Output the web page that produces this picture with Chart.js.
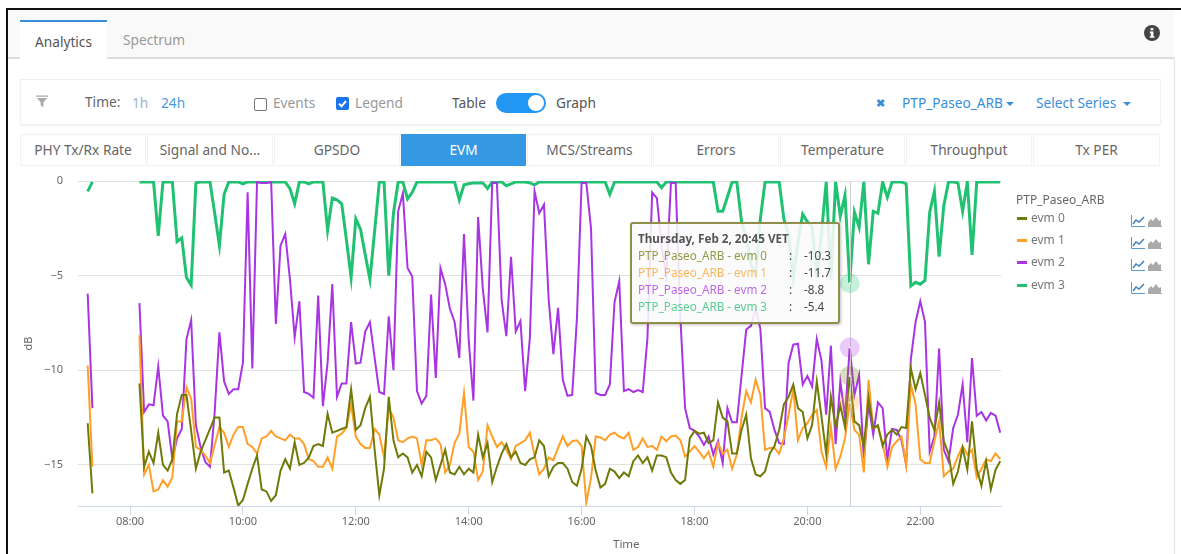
<!DOCTYPE html>
<html>
<head>
<meta charset="utf-8">
<title>EVM</title>
<script src="https://cdn.jsdelivr.net/npm/chart.js@4/dist/chart.umd.min.js"></script>
<style>
html, body { margin: 0; padding: 0; background: #fff; overflow: hidden; }
body { width: 1181px; height: 554px; position: relative; font-family: "Noto Sans", sans-serif; font-size: 13.7px; color: #666; }
.abs { position: absolute; white-space: nowrap; }
.txt { position: absolute; white-space: nowrap; line-height: 20px; }
.caret { display: inline-block; border-left: 4px solid transparent; border-right: 4px solid transparent; border-top: 4px solid #3a8fd8; vertical-align: middle; margin-left: 3px; }
.tab { position: absolute; top: 134px; height: 32px; line-height: 32px; text-align: center; background: #fff; box-shadow: inset 0 0 0 1px #f1f1f1; color: #666; }
.tab.on { background: #3598e2; color: #fff; box-shadow: none; }
#chartBox { position: absolute; left: 8px; top: 170px; width: 1010px; height: 384px; }
#tip { position: absolute; left: 630px; top: 222px; width: 206px; height: 98px; background: rgba(250,250,250,.88); border: 2px solid #8f8f4a; border-radius: 3px; box-shadow: 1px 1px 3px rgba(0,0,0,.25); font-size: 11.7px; line-height: 17px; }
#tip div { position: absolute; white-space: nowrap; }
.lg { position: absolute; left: 1031px; font-size: 12px; line-height: 16px; color: #777; }
.sw { position: absolute; left: 1017px; width: 10px; height: 3px; }
</style>
</head>
<body>
<div class="abs" style="left:6px;top:8px;width:1175px;height:2px;background:#111"></div>
<div class="abs" style="left:6px;top:8px;width:2px;height:546px;background:#111"></div>
<div class="abs" style="left:1174px;top:58px;width:1px;height:496px;background:#e4e4e4"></div>
<div class="abs" style="left:8px;top:10px;width:1166px;height:47px;background:#f9f9f9"></div>
<div class="abs" style="left:8px;top:57px;width:1166px;height:2px;background:#ddd"></div>
<div class="abs" style="left:20px;top:20px;width:87px;height:38px;background:#fff;border-top:2px solid #3a8fd8"></div>
<div class="txt" style="left:35px;top:32px;color:#555">Analytics</div>
<div class="txt" style="left:123px;top:30px;color:#999">Spectrum</div>
<svg class="abs" style="left:1144px;top:25px" width="16" height="16" viewBox="0 0 16 16"><circle cx="8" cy="8" r="8" fill="#444"/><rect x="6.6" y="3" width="2.8" height="2.4" fill="#fff"/><path d="M5.8 6.6h3.6v4.6h1v1.6H5.8v-1.6h1v-3H5.8z" fill="#fff"/></svg>

<div class="abs" style="left:20px;top:79px;width:1139px;height:44px;border:1px solid #f1f1f1;box-shadow:0 1px 1px #f4f4f4"></div>
<svg class="abs" style="left:36px;top:95px" width="12" height="13" viewBox="0 0 14 14"><path d="M0 0h14v1.5H0zM1 3h12L8.6 8V14L5.4 11.5V8z" fill="#aaa"/></svg>
<div class="txt" style="left:85px;top:92px;color:#666">Time:</div>
<div class="txt" style="left:132px;top:93px;color:#9db6c8">1h</div>
<div class="txt" style="left:161px;top:93px;color:#4a9ae0">24h</div>
<div class="abs" style="left:254px;top:98px;width:11px;height:11px;border:1px solid #777;border-radius:2px"></div>
<div class="txt" style="left:273px;top:93px;color:#999">Events</div>
<svg class="abs" style="left:336px;top:97px" width="13" height="13" viewBox="0 0 13 13"><rect width="13" height="13" rx="2" fill="#1a73e8"/><path d="M3 6.8l2.5 2.5L10 4" fill="none" stroke="#fff" stroke-width="2"/></svg>
<div class="txt" style="left:355px;top:93px;color:#999">Legend</div>
<div class="txt" style="left:452px;top:93px;color:#555">Table</div>
<div class="abs" style="left:496px;top:93px;width:50px;height:20px;border-radius:10px;background:#2196f3"></div>
<div class="abs" style="left:528px;top:95px;width:16px;height:16px;border-radius:8px;background:#fff"></div>
<div class="txt" style="left:556px;top:93px;color:#555">Graph</div>
<div class="txt" style="left:876px;top:93px;color:#3a8fd8;font-weight:700;font-size:11px">✖</div>
<div class="txt" style="left:902px;top:93px;color:#3a8fd8">PTP_Paseo_ARB<span class="caret"></span></div>
<div class="txt" style="left:1036px;top:93px;color:#3a8fd8">Select Series <span class="caret"></span></div>

<div class="tab" style="left:20px;width:126px">PHY Tx/Rx Rate</div>
<div class="tab" style="left:147px;width:126px">Signal and No...</div>
<div class="tab" style="left:274px;width:126px">GPSDO</div>
<div class="tab on" style="left:401px;width:125px">EVM</div>
<div class="tab" style="left:527px;width:125px">MCS/Streams</div>
<div class="tab" style="left:653px;width:126px">Errors</div>
<div class="tab" style="left:780px;width:125px">Temperature</div>
<div class="tab" style="left:906px;width:126px">Throughput</div>
<div class="tab" style="left:1033px;width:127px">Tx PER</div>

<div id="chartBox"><canvas id="evmCanvas"></canvas></div>
<div class="txt" style="left:613px;top:534px;font-size:11.5px;color:#666">Time</div>
<div id="tip"></div>

<div class="lg" style="left:1016px;top:192px;color:#666">PTP_Paseo_ARB</div>
<div id="legendRows"></div>

<script>
// 5 minute samples, first sample at 07:15
const startMinute = 435;
const stepMinute = 5;
const seriesNames = ["evm 0", "evm 1", "evm 2", "evm 3"];
const seriesColors = ["#6f7a08", "#ff9f26", "#a935e2", "#20c272"];
const seriesWidths = [2, 2, 2, 3];
const hoverSample = 2 + 9 + 151;
const hoverTitle = "Thursday, Feb 2, 20:45 VET";
const deviceName = "PTP_Paseo_ARB";
const yTicks = [0, -5, -10, -15];

const evm0 = [
    -12.8, -16.5, null, null, null, null, null, null, null, null, null,
    -10.7,-15.1,-14.3,-14.9,-13.3,-15,-15.3,-14.7,-12.3,-11.3,
    -11.3,-13.2,-15.2,-14.3,-13.7,-13.1,-12.5,-12.5,-15.4,-15.3,
    -16.2,-17.15,-16.85,-16,-15.2,-14.5,-16.3,-16.4,-16.9,-16.6,
    -15.3,-14.7,-15.2,-13.8,-15,-14.9,-14.6,-14,-13.9,-14,
    -12.3,-13.3,-13.2,-13.1,-13,-11,-13.15,-12.9,-12,-11.4,
    -14.2,-16.6,-15.2,-11.4,-13.7,-14.6,-14.4,-14.6,-15.4,-15,
    -15.6,-14.3,-14.6,-15.8,-15,-14.2,-15.4,-15.5,-15.1,-15.5,
    -15.2,-15.4,-13.4,-14.6,-13.85,-15.9,-15.1,-14.4,-13.9,-14.6,
    -14.3,-14.9,-15,-14.7,-14.6,-13.7,-14,-15.6,-15.1,-14.9,
    -14.9,-15.2,-15.9,-16.1,-15.2,-13.5,-14,-15.3,-16.2,-16,
    -15.2,-15.35,-15.7,-15.4,-15.6,-14.8,-14.5,-14.9,-14.6,-15.3,
    -14.5,-14.5,-14.6,-15.4,-15.8,-16,-15.8,-13.6,-13.2,-13.35,
    -13.3,-13.85,-13.7,-11.7,-12.5,-12.7,-14.4,-14.4,-13.15,-12.35,
    -14.65,-15.5,-15.6,-15.35,-14.4,-14,-13.15,-11.8,-11.4,-10.75,
    -12,-12.2,-13.6,-12.9,-10.6,-12.45,-14.4,-11.4,-13,-11.85,
    -13,-10.3,-12.7,-12.9,-14,-11.45,-13.05,-12.9,-14,-13.4,
    -13.15,-13.4,-13,-13.05,-9.9,-11,-10.15,-11.3,-12.5,-13.15,
    -11.7,-13.75,-14.4,-16,-15.35,-14.1,-15.25,-12.7,-15.2,-16.1,
    -14.8,-16.3,-15.25,-14.8
];
const evm1 = [
    -9.75, -15.1, null, null, null, null, null, null, null, null, null,
    -8.15,-15.5,-15,-16.4,-16.3,-15.8,-16.15,-15.65,-12.7,-12.7,
    -10.9,-11.5,-14.05,-14.2,-14.5,-14.9,-13.95,-13,-13.3,-14.05,
    -13.4,-13,-13,-13.9,-14.05,-14.4,-13.6,-13.5,-13.2,-13.5,
    -13.6,-13.7,-13.4,-13.6,-13.6,-13.9,-14.7,-14.8,-15.1,-15.1,
    -14.6,-15.2,-13.5,-13.35,-13.05,-11.8,-13.5,-13.9,-14.1,-14.1,
    -13.1,-13.4,-14.6,-12,-12.5,-13.7,-13.8,-13.6,-13.5,-13.6,
    -15,-13.7,-13.7,-13.6,-13.9,-15.4,-15,-13.85,-13.35,-11.2,
    -14.05,-14.3,-15.8,-15.35,-12.9,-13.5,-14.05,-13.8,-14.2,-14.7,
    -14,-13.85,-13.7,-13.3,-14.5,-15.5,-15.2,-14.6,-14.75,-14.1,
    -13.5,-14,-13.75,-13.7,-14,-17,-15.7,-13.5,-13.55,-13.7,
    -13.4,-13.3,-13.5,-13.6,-13.3,-14.2,-14.05,-13.6,-14.05,-14,
    -14.2,-13.5,-13.75,-13.5,-13.45,-13.7,-14.55,-14.3,-14,-14.3,
    -14.65,-14.3,-15.1,-13.85,-14.4,-14.2,-15.2,-14.45,-12.5,-11.1,
    -11.7,-10.5,-11.3,-14.2,-14.1,-14.1,-14.4,-13.6,-12.35,-11,
    -13.7,-13.05,-12.8,-12.35,-12.1,-14.3,-15.1,-13,-15.2,-14.55,
    -13.6,-11.7,-13.15,-13.4,-15.4,-10.5,-13.05,-13,-13.85,-15.1,
    -14.05,-13.75,-13.5,-15,-10.75,-11.8,-14.7,-14.9,-14.9,-13.75,
    -12.7,-15.6,-15.35,-15.2,-14.55,-14,-14.45,-14.2,-15.65,-15.2,
    -14.7,-14.8,-14.4,-14.7
];
const evm2 = [
    -5.95, -12, null, null, null, null, null, null, null, null, null,
    -6.45,-12.2,-11.8,-11.85,-9.8,-12.4,-12.7,-14.7,-13.6,-13.1,
    -8.35,-7.35,-12.9,-14.05,-14.85,-15.1,-12.2,-8,-10.6,-11.25,
    -11,-11,-9.6,-0.6,-9.9,-0.05,-0.1,-0.1,-0.05,-7.55,
    -3.4,-2.8,-5.2,-8.25,-6.35,-11.15,-11.25,-11.45,-6.05,-11.9,
    -9.6,-5.45,-11.4,-10.7,-10.7,-7.45,-9.65,-9.6,-7.95,-7.45,
    -9.35,-11.15,-11.25,-7.15,-10,-1.6,-0.65,-4.6,-5.05,-11.1,
    -11.75,-11.35,-6,-10.4,-4.6,-5.45,-6.75,-7.45,-9.35,-2.8,
    -8.4,-11.6,-1.9,-5.7,-8,-0.1,-0.1,-6.3,-8.2,-4,
    -7.95,-7.4,-11.1,-8.3,-0.55,-1.7,-1.25,-6.25,-9.15,-6.7,
    -10.5,-11.35,-11.3,-7.3,-0.1,-0.1,-2.5,-11.2,-11.3,-11.3,
    -10.75,-6.4,-5.3,-11.1,-11,-11.15,-11.05,-11.15,-8.3,-0.6,
    -0.9,-3.4,-5,-0.1,-0.1,-7.25,-12,-13.05,-13.2,-13.5,
    -13.95,-13.5,-14.45,-13.75,-14.9,-12,-12.75,-12.75,-10.3,-7.85,
    -7.65,-6.75,-7.8,-12,-12.2,-13.15,-13.85,-13.9,-9.6,-8.65,
    -8.6,-10.75,-10.3,-10.85,-8.35,-9.5,-12.35,-8.7,-13.9,-10.6,
    -12.45,-8.8,-11.3,-10.25,-14.65,-11.8,-13.4,-11.7,-12,-14.7,
    -13.1,-13.15,-13.7,-15,-9.4,-7.45,-6.35,-7.45,-14.3,-13.5,
    -8.85,-14.2,-14.8,-13.05,-12.35,-10.75,-13.8,-9.35,-12.4,-12.2,
    -12.65,-12.25,-12.4,-13.3
];
const evm3 = [
    -0.55, -0.05, null, null, null, null, null, null, null, null, null,
    -0.05,-0.05,-0.05,-0.05,-2.9,-0.05,-0.05,-0.05,-3.2,-3,
    -5.1,-5.5,-0.1,-0.05,-0.05,-0.05,-1.7,-3.4,-0.7,-0.05,
    -0.05,-0.05,-0.15,-0.05,-0.05,-0.05,-0.05,-0.05,-0.05,-0.05,
    -0.05,-0.05,-0.4,-1.2,-0.05,-0.05,-0.15,-0.05,-0.05,-0.05,
    -2.6,-0.9,-1,-1.2,-3.1,-5.1,-2,-2.55,-3.9,-5.2,
    -2.65,-0.05,-0.05,-5,-1.7,-0.05,-0.05,-0.95,-0.6,-0.05,
    -0.05,-0.05,-0.05,-0.05,-0.05,-0.05,-0.05,-0.05,-1,-0.2,
    -0.15,-0.1,-0.1,-0.1,-0.4,-0.05,-0.05,-0.05,-0.25,-0.15,
    -0.05,-0.05,-0.05,-0.1,-0.2,-0.05,-0.05,-0.05,-0.05,-0.05,
    -0.05,-0.05,-0.05,-0.05,-0.05,-0.05,-0.05,-0.05,-0.05,-0.05,
    -0.7,-0.05,-0.05,-0.05,-0.05,-0.05,-0.05,-0.05,-0.05,-0.05,
    -0.05,-0.35,-0.05,-0.05,-0.05,-0.05,-0.05,-0.05,-0.05,-0.05,
    -0.05,-0.05,-0.05,-1.6,-1.6,-0.85,-0.05,-0.05,-2.15,-3,
    -4.4,-4.95,-2,-0.05,-0.05,-0.05,-0.05,-2,-2.85,-5.15,
    -3.2,-1.75,-2.15,-2.4,-5.1,-2.75,-0.05,-5.2,-0.05,-1.85,
    -0.75,-5.4,-1.65,-2.45,-0.05,-4.4,-1.6,-1.7,-0.05,-0.85,
    -0.05,-0.05,-0.05,-0.15,-5.55,-5.35,-5.45,-5.25,-1.65,-0.55,
    -4,-1.3,-0.05,-0.05,-0.1,-1.6,-0.05,-3.9,-0.05,-0.05,
    -0.05,-0.05,-0.05,-0.05
];
const allSeries = [evm0, evm1, evm2, evm3];

function minuteLabel(m) {
    const h = Math.floor(m / 60);
    return (h < 10 ? "0" + h : h) + ":00";
}

// crosshair and the halos on the hovered sample
const hoverPlugin = {
    id: "hoverMarks",
    afterDatasetsDraw(chart) {
        const ctx = chart.ctx;
        const area = chart.chartArea;
        const x = chart.getDatasetMeta(0).data[hoverSample].x;
        ctx.save();
        ctx.strokeStyle = "#cfcfcf";
        ctx.lineWidth = 1;
        ctx.beginPath();
        ctx.moveTo(Math.round(x) + 0.5, area.top);
        ctx.lineTo(Math.round(x) + 0.5, area.bottom);
        ctx.stroke();
        chart.data.datasets.forEach(function (ds, i) {
            const p = chart.getDatasetMeta(i).data[hoverSample];
            ctx.globalAlpha = 0.25;
            ctx.fillStyle = ds.borderColor;
            ctx.beginPath();
            ctx.arc(p.x, p.y, 10, 0, Math.PI * 2);
            ctx.fill();
            ctx.globalAlpha = 1;
            ctx.fillStyle = "#fff";
            ctx.beginPath();
            ctx.arc(p.x, p.y, 1, 0, Math.PI * 2);
            ctx.fill();
        });
        ctx.restore();
    }
};

new Chart(document.getElementById("evmCanvas"), {
    type: "line",
    data: {
        datasets: allSeries.map(function (values, i) {
            return {
                label: deviceName + " - " + seriesNames[i],
                data: values.map(function (v, n) {
                    return { x: startMinute + n * stepMinute, y: v };
                }),
                borderColor: seriesColors[i],
                borderWidth: seriesWidths[i],
                pointRadius: 0,
                tension: 0,
                clip: 0,
                spanGaps: false
            };
        })
    },
    options: {
        responsive: true,
        maintainAspectRatio: false,
        animation: false,
        events: [],
        layout: { padding: { top: 11, right: 17, left: 0, bottom: 0 } },
        plugins: { legend: { display: false }, tooltip: { enabled: false } },
        scales: {
            x: {
                type: "linear",
                min: 424.7,
                max: 1405.8,
                afterBuildTicks: function (axis) {
                    const t = [];
                    for (let m = 480; m <= 1320; m += 120) t.push({ value: m });
                    axis.ticks = t;
                },
                afterFit: function (axis) { axis.height = 48; },
                border: { color: "#ccd6eb", width: 1 },
                grid: { drawOnChartArea: false, color: "#ccd6eb", tickLength: 9 },
                ticks: {
                    maxRotation: 0,
                    autoSkip: false,
                    color: "#666",
                    padding: 0,
                    font: { family: "Noto Sans", size: 11 },
                    callback: function (v) { return minuteLabel(v); }
                }
            },
            y: {
                min: -17.17,
                max: 0,
                afterBuildTicks: function (axis) {
                    axis.ticks = yTicks.map(function (v) { return { value: v }; });
                },
                afterFit: function (axis) {
                    axis.width = 70;
                    axis.paddingTop = 0;
                    axis.paddingBottom = 0;
                },
                border: { display: false },
                grid: { color: "#e2e2e2", drawTicks: false },
                ticks: {
                    color: "#666",
                    padding: 15,
                    font: { family: "Noto Sans", size: 11 },
                    callback: function (v) { return String(v).replace("-", "\u2212"); }
                },
                title: {
                    display: true,
                    text: "dB",
                    color: "#666",
                    font: { family: "Noto Sans", size: 11 },
                    padding: { top: 14, bottom: 0 }
                }
            }
        }
    },
    plugins: [hoverPlugin]
});

// tooltip text comes from the hovered sample
const tip = document.getElementById("tip");
let tipHtml = '<div style="left:6px;top:6px;font-weight:700;color:#555">' + hoverTitle + "</div>";
allSeries.forEach(function (values, i) {
    const top = 23 + i * 17;
    tipHtml += '<div style="left:6px;top:' + top + 'px;color:' + seriesColors[i] + ';opacity:.75">' + deviceName + " - " + seriesNames[i] + "</div>";
    tipHtml += '<div style="left:157px;top:' + top + 'px;color:#444">:</div>';
    tipHtml += '<div style="left:172px;top:' + top + 'px;color:#444">' + values[hoverSample] + "</div>";
});
tip.innerHTML = tipHtml;

// legend rows, line and area icons on the right
const rows = [210, 232, 254, 277];
let legendHtml = "";
seriesNames.forEach(function (name, i) {
    const y = rows[i];
    legendHtml += '<div class="sw" style="top:' + (y + 7) + 'px;background:' + seriesColors[i] + '"></div>';
    legendHtml += '<div class="lg" style="top:' + y + 'px">' + name + "</div>";
    legendHtml += '<svg class="abs" style="left:1131px;top:' + (y + 5) + 'px" width="14" height="12" viewBox="0 0 14 12"><path d="M0.5 0v11.5H14" fill="none" stroke="#5b9bd5"/><path d="M2 9l3-4 3 2 5-5" fill="none" stroke="#3a7fc0" stroke-width="1.4"/></svg>';
    legendHtml += '<svg class="abs" style="left:1148px;top:' + (y + 5) + 'px" width="14" height="12" viewBox="0 0 14 12"><path d="M0 11V7l3-3 2 2 3-4 3 4 2-1v6z" fill="#aaa"/><path d="M0 11.5H14" stroke="#aaa"/></svg>';
});
document.getElementById("legendRows").innerHTML = legendHtml;
</script>
</body>
</html>
